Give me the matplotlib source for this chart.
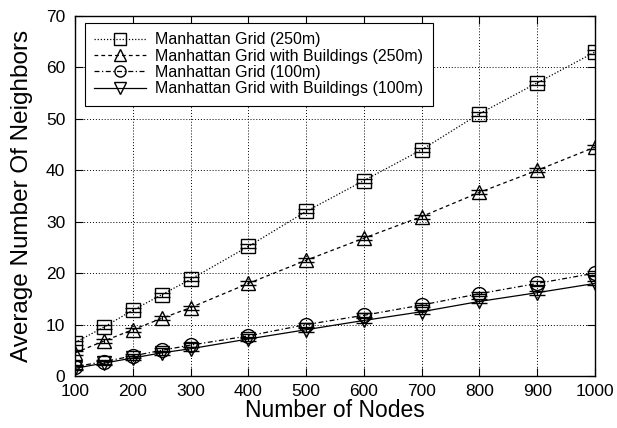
import matplotlib
matplotlib.use("Agg")
import matplotlib.pyplot as plt

plt.rcParams['font.family'] = ['Liberation Sans', 'DejaVu Sans']

nodes = [100, 150, 200, 250, 300, 400, 500, 600, 700, 800, 900, 1000]
grid_250 = [6.5, 9.5, 12.8, 15.8, 18.8, 25.2, 32.0, 38.0, 44.0, 51.0, 57.0, 63.0]
bld_250 = [4.5, 6.8, 9.0, 11.2, 13.3, 18.0, 22.5, 26.8, 31.0, 35.7, 40.0, 44.5]
grid_100 = [1.8, 2.8, 3.9, 5.0, 6.0, 7.8, 10.0, 11.8, 13.8, 16.0, 18.0, 20.0]
bld_100 = [1.5, 2.5, 3.5, 4.5, 5.3, 7.2, 9.0, 10.8, 12.5, 14.5, 16.2, 18.0]
err = 0.4

series = [
	(grid_250, "s", ":", "Manhattan Grid (250m)"),
	(bld_250, "^", "--", "Manhattan Grid with Buildings (250m)"),
	(grid_100, "o", "-.", "Manhattan Grid (100m)"),
	(bld_100, "v", "-", "Manhattan Grid with Buildings (100m)"),
]

fig, ax = plt.subplots(figsize=(6.17, 4.28), dpi=100)
fig.subplots_adjust(left=75/617, right=595/617, top=1 - 16/428, bottom=1 - 376/428)

for data, marker, ls, label in series:
	dashes = {":": (1, 1.5), "--": (3, 2.5), "-.": (4, 2, 1, 2), "-": None}[ls]
	line, = ax.plot(nodes, data, color="black", linewidth=0.9, marker=marker,
		markersize=10, markerfacecolor="none", markeredgewidth=1.0, label=label)
	if dashes:
		line.set_dashes(dashes)
	ax.errorbar(nodes, data, yerr=err, fmt="none", ecolor="black",
		elinewidth=0.8, capsize=5.5, capthick=1.0)

ax.set_xlim(100, 1000)
ax.set_ylim(0, 70)
ax.set_xticks([100, 200, 300, 400, 500, 600, 700, 800, 900, 1000])
ax.set_yticks(range(0, 71, 10))
ax.tick_params(direction="in", top=True, right=True, labelsize=12.5, length=6)
ax.tick_params(axis="x", pad=6)
ax.tick_params(axis="y", pad=7)
ax.grid(True, linestyle=(0, (1, 2)), color="black", linewidth=0.7)
ax.set_xlabel("Number of Nodes", fontsize=16.5, labelpad=0)
ax.set_ylabel("Average Number Of Neighbors", fontsize=17.5, labelpad=9)
for s in ax.spines.values():
	s.set_linewidth(1.0)

leg = ax.legend(loc="upper left", fontsize=11.5, fancybox=False, edgecolor="black",
	framealpha=1, handlelength=3.2, labelspacing=0.08, borderpad=0.6,
	handletextpad=0.6, borderaxespad=0, bbox_to_anchor=(0.019, 0.981))
leg.get_frame().set_linewidth(0.8)
for h in leg.legend_handles:
	h.set_markersize(8)

plt.savefig("out.png", dpi=100)
